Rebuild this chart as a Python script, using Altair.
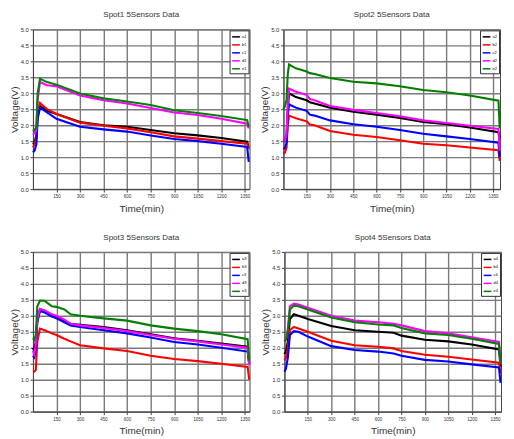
import altair as alt
import pandas as pd

COLORS = ["#000000", "#ff0000", "#0000ff", "#ff00ff", "#008000"]
X_TICKS = [150, 300, 450, 600, 750, 900, 1050, 1200, 1350]
Y_TICKS = [0.0, 0.5, 1.0, 1.5, 2.0, 2.5, 3.0, 3.5, 4.0, 4.5, 5.0]

# ---- Spot1 ----
spot1_title = "Spot1 5Sensors Data"
spot1_labels = ["a1", "b1", "c1", "d1", "e1"]
spot1_xmax = 1380
spot1_t = [0, 10, 22, 30, 45, 90, 150, 300, 450, 600, 750, 900, 1050, 1200, 1365, 1375]
spot1_a = [1.4, 1.45, 1.7, 2.3, 2.6, 2.45, 2.35, 2.1, 2.0, 1.95, 1.85, 1.75, 1.68, 1.6, 1.48, 1.3]
spot1_b = [1.3, 1.4, 1.6, 2.4, 2.7, 2.5, 2.35, 2.08, 1.98, 1.9, 1.78, 1.65, 1.58, 1.5, 1.42, 1.25]
spot1_c = [1.15, 1.2, 1.4, 2.2, 2.55, 2.4, 2.2, 1.95, 1.87, 1.8, 1.68, 1.57, 1.5, 1.42, 1.32, 0.85]
spot1_d = [1.7, 1.75, 1.85, 2.8, 3.35, 3.25, 3.22, 2.93, 2.78, 2.68, 2.54, 2.4, 2.32, 2.2, 2.05, 1.9]
spot1_e = [1.8, 1.85, 1.95, 3.0, 3.45, 3.35, 3.27, 2.99, 2.84, 2.74, 2.63, 2.47, 2.38, 2.29, 2.16, 1.95]

# ---- Spot2 ----
spot2_title = "Spot2 5Sensors Data"
spot2_labels = ["a2", "b2", "c2", "d2", "e2"]
spot2_xmax = 1395
spot2_t = [0, 10, 20, 28, 36, 80, 150, 170, 200, 300, 450, 600, 750, 900, 1050, 1200, 1385, 1393]
spot2_a = [1.5, 1.55, 1.7, 2.5, 3.0, 2.88, 2.78, 2.72, 2.68, 2.55, 2.42, 2.33, 2.23, 2.1, 2.03, 1.93, 1.78, 1.6]
spot2_b = [1.1, 1.15, 1.3, 2.0, 2.3, 2.22, 2.12, 2.02, 2.0, 1.82, 1.7, 1.63, 1.53, 1.42, 1.37, 1.3, 1.22, 0.88]
spot2_c = [1.25, 1.3, 1.45, 2.3, 2.65, 2.55, 2.45, 2.33, 2.3, 2.15, 2.03, 1.95, 1.85, 1.73, 1.65, 1.57, 1.45, 1.0]
spot2_d = [1.5, 1.55, 1.7, 2.7, 3.15, 3.05, 2.95, 2.82, 2.78, 2.6, 2.48, 2.38, 2.28, 2.15, 2.07, 1.98, 1.88, 1.2]
spot2_e = [2.5, 2.6, 2.8, 3.6, 3.9, 3.78, 3.68, 3.63, 3.6, 3.48, 3.36, 3.31, 3.22, 3.1, 3.03, 2.93, 2.77, 1.9]

# ---- Spot3 ----
spot3_title = "Spot3 5Sensors Data"
spot3_labels = ["a3", "b3", "c3", "d3", "e3"]
spot3_xmax = 1380
spot3_t = [0, 8, 18, 28, 45, 75, 120, 150, 200, 240, 300, 450, 600, 750, 900, 1050, 1200, 1368, 1378]
spot3_a = [2.0, 1.9, 2.2, 2.9, 3.2, 3.15, 3.02, 2.98, 2.85, 2.75, 2.72, 2.65, 2.55, 2.42, 2.3, 2.22, 2.13, 2.03, 1.5]
spot3_b = [1.25, 1.25, 1.3, 2.2, 2.6, 2.55, 2.45, 2.4, 2.28, 2.2, 2.08, 1.98, 1.9, 1.75, 1.65, 1.58, 1.5, 1.4, 1.0]
spot3_c = [1.75, 1.7, 1.9, 2.8, 3.15, 3.1, 2.98, 2.92, 2.8, 2.7, 2.65, 2.55, 2.45, 2.32, 2.18, 2.1, 2.0, 1.88, 1.5]
spot3_d = [1.9, 1.8, 2.1, 2.9, 3.22, 3.17, 3.05, 3.0, 2.88, 2.75, 2.7, 2.62, 2.52, 2.4, 2.28, 2.2, 2.1, 2.0, 1.45]
spot3_e = [2.3, 2.25, 2.4, 3.3, 3.48, 3.47, 3.3, 3.28, 3.2, 3.05, 3.0, 2.92, 2.85, 2.7, 2.6, 2.52, 2.42, 2.27, 1.6]

# ---- Spot4 ----
spot4_title = "Spot4 5Sensors Data"
spot4_labels = ["a4", "b4", "c4", "d4", "e4"]
spot4_xmax = 1388
spot4_t = [0, 10, 22, 35, 60, 90, 150, 300, 450, 600, 700, 750, 900, 1050, 1200, 1375, 1385]
spot4_a = [1.8, 1.9, 2.2, 2.9, 3.05, 3.0, 2.9, 2.68, 2.55, 2.5, 2.47, 2.38, 2.25, 2.2, 2.1, 1.95, 1.4]
spot4_b = [1.6, 1.7, 2.0, 2.55, 2.65, 2.6, 2.5, 2.22, 2.08, 2.03, 1.98, 1.9, 1.78, 1.72, 1.63, 1.53, 1.2]
spot4_c = [1.25, 1.35, 1.7, 2.4, 2.52, 2.5, 2.35, 2.05, 1.93, 1.88, 1.82, 1.75, 1.62, 1.57, 1.48, 1.38, 0.9]
spot4_d = [2.2, 2.3, 2.6, 3.3, 3.38, 3.35, 3.25, 3.0, 2.85, 2.8, 2.75, 2.7, 2.52, 2.45, 2.33, 2.18, 1.5]
spot4_e = [2.2, 2.25, 2.5, 3.2, 3.32, 3.3, 3.2, 2.95, 2.8, 2.73, 2.7, 2.62, 2.45, 2.4, 2.28, 2.12, 1.5]

FONT = "Liberation Sans"


def panel(title, labels, xmax, times, series):
    rows = []
    for lab, vals in zip(labels, series):
        for k, (t, v) in enumerate(zip(times, vals)):
            rows.append({"t": t, "v": v, "s": lab, "k": k})
    df = pd.DataFrame(rows)
    return (
        alt.Chart(df)
        .mark_line(strokeWidth=2.1)
        .encode(
            x=alt.X(
                "t:Q",
                scale=alt.Scale(domain=[0, xmax], nice=False, zero=True),
                axis=alt.Axis(
                    values=X_TICKS,
                    format="d",
                    title="Time(min)",
                    labelFontSize=4.5,
                    titlePadding=5,
                ),
            ),
            y=alt.Y(
                "v:Q",
                scale=alt.Scale(domain=[0, 5], nice=False),
                axis=alt.Axis(
                    values=Y_TICKS,
                    format=".1f",
                    title="Voltage(V)",
                    labelFontSize=6,
                    titlePadding=1,
                ),
            ),
            color=alt.Color(
                "s:N",
                scale=alt.Scale(domain=labels, range=COLORS),
                legend=alt.Legend(
                    title=None,
                    orient="top-right",
                    offset=1,
                    fillColor="white",
                    strokeColor="#333333",
                    padding=1.5,
                    symbolType="stroke",
                    symbolSize=60,
                    symbolStrokeWidth=1.5,
                    labelFontSize=4,
                    labelFont=FONT,
                    rowPadding=0,
                    labelOffset=1,
                ),
            ),
            order="k:Q",
        )
        .properties(
            width=217,
            height=160,
            title=alt.Title(title, fontSize=8, fontWeight="normal", color="#333333",
                            font=FONT, offset=7, anchor="middle"),
        )
    )


p1 = panel(spot1_title, spot1_labels, spot1_xmax, spot1_t,
           [spot1_a, spot1_b, spot1_c, spot1_d, spot1_e])
p2 = panel(spot2_title, spot2_labels, spot2_xmax, spot2_t,
           [spot2_a, spot2_b, spot2_c, spot2_d, spot2_e])
p3 = panel(spot3_title, spot3_labels, spot3_xmax, spot3_t,
           [spot3_a, spot3_b, spot3_c, spot3_d, spot3_e])
p4 = panel(spot4_title, spot4_labels, spot4_xmax, spot4_t,
           [spot4_a, spot4_b, spot4_c, spot4_d, spot4_e])

top = alt.hconcat(p1, p2, spacing=5).resolve_scale(color="independent")
bottom = alt.hconcat(p3, p4, spacing=5).resolve_scale(color="independent")

chart = (
    alt.vconcat(top, bottom, spacing=19)
    .resolve_scale(color="independent")
    .properties(padding={"left": 0, "top": 2, "right": 0, "bottom": 0}, background="white")
    .configure_view(stroke="#444444", strokeWidth=1)
    .configure_axis(
        gridColor="#7a7a7a",
        gridWidth=1.4,
        domainColor="#444444",
        tickColor="#444444",
        tickSize=3,
        labelColor="#333333",
        labelFont=FONT,
        titleFont=FONT,
        titleFontSize=10,
        titleFontWeight="normal",
        titleColor="#333333",
        labelPadding=1.5,
    )
)

chart.save("out.html", embed_options={"renderer": "svg", "actions": False})
